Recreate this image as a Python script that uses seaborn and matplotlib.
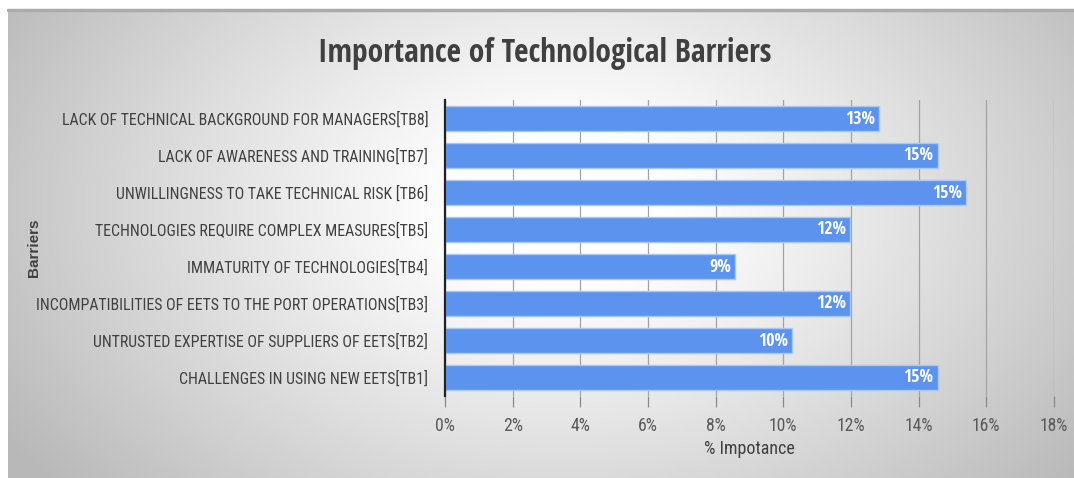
import numpy as np
import pandas as pd
import matplotlib
matplotlib.use("Agg")
import matplotlib.pyplot as plt
from matplotlib import font_manager
from matplotlib.font_manager import FontProperties
from matplotlib.textpath import TextPath
from matplotlib.lines import Line2D
from matplotlib.colors import LinearSegmentedColormap
import seaborn as sns

# Barrier categories, top to bottom
barriers = [
    "LACK OF TECHNICAL BACKGROUND FOR MANAGERS[TB8]",
    "LACK OF AWARENESS AND TRAINING[TB7]",
    "UNWILLINGNESS TO TAKE TECHNICAL RISK [TB6]",
    "TECHNOLOGIES REQUIRE COMPLEX MEASURES[TB5]",
    "IMMATURITY OF TECHNOLOGIES[TB4]",
    "INCOMPATIBILITIES OF EETS TO THE PORT OPERATIONS[TB3]",
    "UNTRUSTED EXPERTISE OF SUPPLIERS OF EETS[TB2]",
    "CHALLENGES IN USING NEW EETS[TB1]",
]
# Importance in percent
importance = [12.84, 14.56, 15.40, 11.98, 8.57, 11.98, 10.27, 14.56]
x_ticks = [0, 2, 4, 6, 8, 10, 12, 14, 16, 18]

df = pd.DataFrame({"Barrier": barriers, "Importance": importance})

sns.set_theme(style="white")

SANS_FAMILIES = ("liberation sans", "roboto", "open sans", "noto sans", "lato", "inter", "dejavu sans")


def _weight(w):
    if isinstance(w, str):
        return {"bold": 700, "normal": 400, "regular": 400, "medium": 500}.get(w, 400)
    return int(w)


def _extent(path, s):
    return TextPath((0, 0), s, prop=FontProperties(fname=path, size=100)).get_extents()


def _narrowness(path, sample):
    try:
        cap = _extent(path, "H").height
        wid = _extent(path, sample).width
        thin = _extent(path, "iiiiii").width
        wide = _extent(path, "MMMMMM").width
        if wide <= 0 or thin / wide > 0.55:  # skip fixed-pitch faces
            return 1e9
        return wid / cap if cap > 0 else 1e9
    except Exception:
        return 1e9


def pick_font(bold, sample):
    """Narrowest proportional sans face of the wanted weight."""
    best, best_ratio = None, 1e9
    seen = set()
    for f in font_manager.fontManager.ttflist:
        if f.style != "normal" or f.fname in seen:
            continue
        seen.add(f.fname)
        w = _weight(f.weight)
        if bold and not (650 <= w <= 800):
            continue
        if not bold and not (350 <= w <= 450):
            continue
        name = f.name.lower()
        key = (name + " " + f.fname).lower()
        if not name.startswith(SANS_FAMILIES):
            continue
        if any(k in key for k in ("mono", "display", "cjk", "symbol", "math")):
            continue
        r = _narrowness(f.fname, sample)
        if r < best_ratio:
            best, best_ratio = f.fname, r
    return best


reg_file = pick_font(False, barriers[5])
bold_file = pick_font(True, "Importance of Technological Barriers")


def fp(bold, size):
    path = bold_file if bold else reg_file
    if path:
        return FontProperties(fname=path, size=size)
    return FontProperties(family="Liberation Sans", weight="bold" if bold else "normal", size=size)


def cap_per_pt(bold):
    path = bold_file if bold else reg_file
    if path:
        return _extent(path, "H").height / 100.0
    return 0.72


W, H, DPI = 1074, 478, 100
fig = plt.figure(figsize=(W / DPI, H / DPI), dpi=DPI)
fig.patch.set_facecolor("white")
renderer = fig.canvas.get_renderer()


def fit(text, target_px, cap_px, bold):
    """Size a text to the given width, never exceeding the given cap height."""
    text.set_fontsize(10)
    w = text.get_window_extent(renderer).width
    by_width = 10 * target_px / w if w > 0 else 10
    by_cap = cap_px * 72.0 / DPI / cap_per_pt(bold)
    text.set_fontsize(min(by_width, by_cap))
    return text.get_fontsize()


# Radial grey-to-white backdrop
bg = fig.add_axes([8 / W, 0, 1 - 8 / W, 1 - 10 / H])
gx = np.linspace(0, 1, 400)
gy = np.linspace(0, 1, 200)
X, Y = np.meshgrid(gx, gy)
d = np.sqrt(((X - 0.52) / 0.62) ** 2 + ((Y - 0.42) / 0.95) ** 2)
shade = np.clip(1 - 0.28 * np.clip(d - 0.15, 0, None) ** 1.1 / 0.85 ** 1.1, 0.72, 1)
cmap = LinearSegmentedColormap.from_list("g", ["#b8b8b8", "#ffffff"])
bg.imshow(shade, cmap=cmap, vmin=0.72, vmax=1.0, aspect="auto", origin="upper",
          extent=[0, 1, 0, 1])
bg.set_axis_off()
fig.add_artist(Line2D([8 / W, 1], [1 - 10 / H, 1 - 10 / H], color="#ababab", lw=2.5,
                      transform=fig.transFigure))

ax = fig.add_axes([445 / W, 1 - 396 / H, (1054 - 445) / W, (396 - 100) / H])
ax.set_facecolor("none")

sns.barplot(data=df, x="Importance", y="Barrier", orient="h", ax=ax,
            color="#5b93ee", saturation=1, width=0.7,
            edgecolor="#a9c7f7", linewidth=1.0, zorder=3)

ax.set_xlim(0, 18)
ax.set_xticks(x_ticks)
ax.set_xticklabels([f"{t}%" for t in x_ticks])
ax.grid(axis="x", color="#a3a3a3", linewidth=0.9, zorder=0)
ax.grid(axis="y", visible=False)
ax.tick_params(axis="x", length=8, width=0.9, color="#8a8a8a", bottom=True,
               labelcolor="#595959", pad=7)
ax.tick_params(axis="y", length=0, labelcolor="#404040", pad=12)

for side in ["top", "right", "bottom"]:
    ax.spines[side].set_visible(False)
ax.spines["left"].set_color("#222222")
ax.spines["left"].set_linewidth(1.6)
ax.spines["left"].set_zorder(4)
ax.set_ylabel("")

fig.canvas.draw()

# Category labels: longest one spans about 390 px
ylabels = ax.get_yticklabels()
for t in ylabels:
    t.set_fontproperties(fp(False, 10))
longest = max(ylabels, key=lambda t: t.get_window_extent(renderer).width)
ysize = fit(longest, 392, 14, False)
for t in ylabels:
    t.set_fontsize(ysize)

# Percent tick labels
xlabels = ax.get_xticklabels()
for t in xlabels:
    t.set_fontproperties(fp(False, 10))
xsize = fit(xlabels[5], 29, 12.5, False)
for t in xlabels:
    t.set_fontsize(xsize)

xl = ax.set_xlabel("% Impotance", color="#404040", labelpad=4)
xl.set_fontproperties(fp(False, 10))
fit(xl, 90, 13.5, False)

texts = ax.bar_label(ax.containers[0], labels=[f"{v:.0f}%" for v in importance],
                     padding=-3, color="white")
for t in texts:
    t.set_fontproperties(fp(True, 10))
    t.set_ha("right")
dsize = fit(texts[0], 30, 13, True)
for t in texts:
    t.set_fontsize(dsize)

fig.text(34 / W, 1 - 248 / H, "Barriers", rotation=90, ha="center", va="center",
         fontsize=11, fontweight="bold", color="#404040", family="Liberation Sans")

title = fig.text(545 / W, 1 - 53 / H, "Importance of Technological Barriers", ha="center",
                 va="center", color="#404040")
title.set_fontproperties(fp(True, 10))
fit(title, 454, 28, True)

fig.savefig("out.png", dpi=DPI)
